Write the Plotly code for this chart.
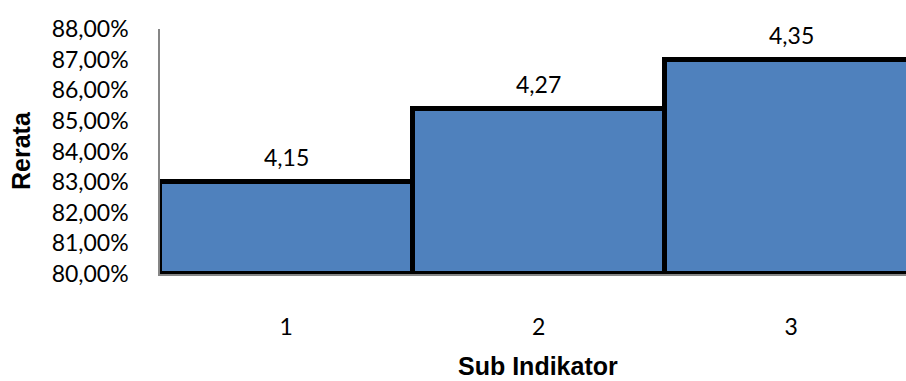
import plotly.graph_objects as go

# Sub-indicator scores (scale 1-5) and their categories
categories = [1, 2, 3]
scores = [4.15, 4.27, 4.35]
max_score = 5.0

# Percent of the maximum score, used as bar heights
percents = [s / max_score for s in scores]
score_labels = [f"{s:.2f}".replace(".", ",") for s in scores]

y_min, y_max = 0.80, 0.88

fig = go.Figure()
fig.add_trace(go.Bar(
    x=categories,
    y=[p - y_min for p in percents],
    base=y_min,
    width=1.0,
    marker=dict(color="#4F81BD", line=dict(color="#000000", width=5)),
    hoverinfo="skip",
))

tick_font = dict(family="Lato, 'Open Sans', sans-serif", size=23, color="#000000")
title_font = dict(family="'Liberation Sans', Arial, sans-serif", size=25, color="#000000")

annotations = []
for c, p, lab in zip(categories, percents, score_labels):
    annotations.append(dict(
        x=c, y=p, xref="x", yref="y", text=lab, showarrow=False,
        yanchor="middle", yshift=25, font=tick_font,
    ))

annotations.append(dict(
    x=538, y=381 - 366, xref="paper", yref="paper", text="<b>Sub Indikator</b>",
    showarrow=False, font=title_font, xanchor="center", yanchor="middle",
))
annotations.append(dict(
    x=21, y=381 - 151, xref="paper", yref="paper", text="<b>Rerata</b>",
    showarrow=False, font=title_font, textangle=-90,
    xanchor="center", yanchor="middle",
))

# positions above in pixels -> convert to paper fraction
W, H = 906, 381
L, R, T, B = 160, 0, 29, 107
for a in annotations:
    if a["xref"] == "paper":
        a["x"] = (a["x"] - L) / (W - L - R)
        a["y"] = (a["y"] - B) / (H - T - B)

fig.update_layout(
    width=W, height=H,
    margin=dict(l=L, r=R, t=T, b=B, pad=0),
    paper_bgcolor="#FFFFFF",
    plot_bgcolor="#FFFFFF",
    separators=",.",
    showlegend=False,
    bargap=0,
    annotations=annotations,
    xaxis=dict(
        range=[0.5, 0.5 + (W - L - R) / 252.5],
        tickvals=categories,
        ticktext=[str(c) for c in categories],
        showgrid=False, zeroline=False,
        showline=True, linecolor="#868686", linewidth=1.5,
        ticks="outside", ticklen=0,
        ticklabelstandoff=32,
        tickfont=tick_font,
    ),
    yaxis=dict(
        range=[y_min, y_max],
        dtick=0.01,
        tickformat=".2%",
        showgrid=False, zeroline=False,
        showline=True, linecolor="#868686", linewidth=1.5,
        ticks="outside", ticklen=0,
        ticklabelstandoff=25,
        tickfont=tick_font,
    ),
)

fig.write_html("out.html")
